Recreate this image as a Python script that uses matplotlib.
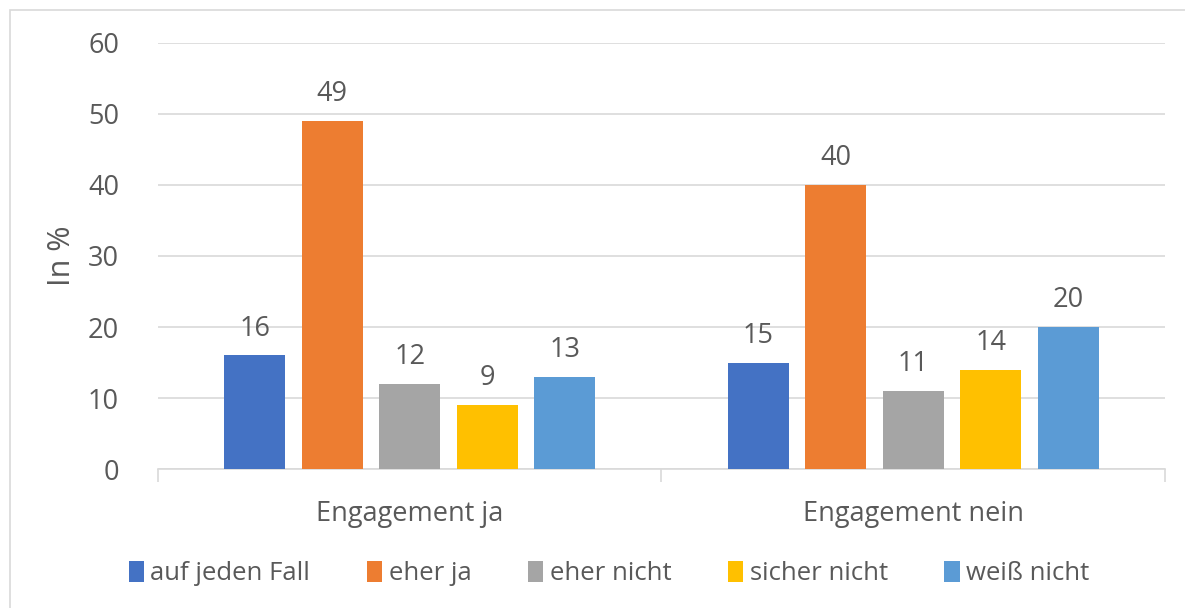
import matplotlib
matplotlib.use('Agg')
import matplotlib.pyplot as plt
import numpy as np
from matplotlib.patches import Rectangle

# data
groups = ['Engagement ja', 'Engagement nein']
series = ['auf jeden Fall', 'eher ja', 'eher nicht', 'sicher nicht', 'weiß nicht']
values_ja = [16, 49, 12, 9, 13]
values_nein = [15, 40, 11, 14, 20]
colors = ['#4472C4', '#ED7D31', '#A5A5A5', '#FFC000', '#5B9BD5']

plt.rcParams['font.family'] = ['Open Sans', 'DejaVu Sans']
text_color = '#595959'
grid_color = '#D9D9D9'

fig = plt.figure(figsize=(11.85, 6.08), dpi=100)
ax = fig.add_axes([0.1333, 0.2286, 0.8497, 0.7007])

# outer chart frame
fig.patches.append(Rectangle((10 / 1185, -0.01), 1.05, 1 - 10 / 608 + 0.01,
                             transform=fig.transFigure, fill=False,
                             edgecolor=grid_color, linewidth=1.2))

x = np.arange(len(groups))
width = 0.121
step = 0.154
for i, name in enumerate(series):
    vals = [values_ja[i], values_nein[i]]
    pos = x + (i - 2) * step
    bars = ax.bar(pos, vals, width, color=colors[i], label=name, zorder=3)
    for b, v in zip(bars, vals):
        ax.text(b.get_x() + b.get_width() / 2, v + 1.8, str(v), ha='center',
                va='bottom', fontsize=19.5, color=text_color)

ax.set_xlim(-0.5, 1.5)
ax.set_ylim(0, 60)
ax.set_yticks(range(0, 61, 10))
ax.grid(True, axis='y', color=grid_color, linewidth=1.2, zorder=0)
ax.set_axisbelow(True)
for s in ['top', 'right', 'left']:
    ax.spines[s].set_visible(False)
ax.spines['bottom'].set_color(grid_color)
ax.spines['bottom'].set_linewidth(1.2)

ax.set_xticks(x)
ax.set_xticklabels(groups, fontsize=19.5, color=text_color)
ax.tick_params(axis='x', length=0, pad=22)
ax.set_xticks([-0.5, 0.5, 1.5], minor=True)
ax.tick_params(axis='x', which='minor', length=9, color=grid_color, width=1.2)
ax.tick_params(axis='y', length=0, labelsize=19.5, labelcolor=text_color, pad=28)
ax.set_ylabel('In %', fontsize=22, color=text_color, labelpad=8)

ax.legend(loc='center', bbox_to_anchor=(0.448, -0.245), ncol=5, frameon=False,
          fontsize=18.5, labelcolor=text_color, handlelength=0.6, handleheight=0.9,
          handletextpad=0.25, columnspacing=2.2)

fig.savefig('out.png', dpi=100)
